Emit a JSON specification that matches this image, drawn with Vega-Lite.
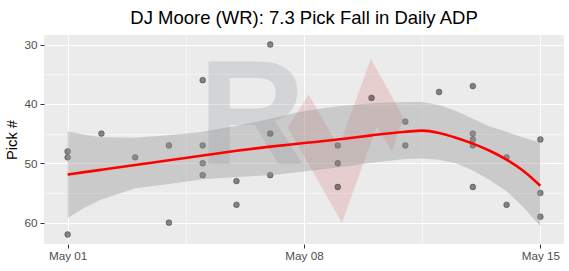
{
  "$schema": "https://vega.github.io/schema/vega-lite/v6.json",
  "width": 520,
  "height": 209,
  "autosize": "none",
  "padding": {"left": 44, "top": 35, "right": 5, "bottom": 27},
  "background": "white",
  "title": {
    "text": "DJ Moore (WR): 7.3 Pick Fall in Daily ADP",
    "font": "Liberation Sans",
    "fontSize": 18.5,
    "fontWeight": "normal",
    "color": "#000000",
    "anchor": "middle",
    "offset": 8
  },
  "config": {
    "view": {"fill": "#EBEBEB", "stroke": null},
    "axis": {
      "domain": false,
      "tickColor": "#333333",
      "tickSize": 4,
      "tickWidth": 1,
      "labelColor": "#4D4D4D",
      "labelFont": "Liberation Sans",
      "labelFontSize": 11.7,
      "labelFlush": false,
      "gridColor": "#FFFFFF",
      "titleFont": "Liberation Sans",
      "titleFontWeight": "normal",
      "titleColor": "#000000",
      "titleFontSize": 14.7
    }
  },
  "datasets": {
    "picks": [
      {"date": "2019-05-01", "pick": 48}, {"date": "2019-05-01", "pick": 49}, {"date": "2019-05-01", "pick": 62},
      {"date": "2019-05-02", "pick": 45},
      {"date": "2019-05-03", "pick": 49},
      {"date": "2019-05-04", "pick": 47}, {"date": "2019-05-04", "pick": 60},
      {"date": "2019-05-05", "pick": 36}, {"date": "2019-05-05", "pick": 47}, {"date": "2019-05-05", "pick": 50}, {"date": "2019-05-05", "pick": 52},
      {"date": "2019-05-06", "pick": 53}, {"date": "2019-05-06", "pick": 57},
      {"date": "2019-05-07", "pick": 30}, {"date": "2019-05-07", "pick": 45}, {"date": "2019-05-07", "pick": 52},
      {"date": "2019-05-09", "pick": 47}, {"date": "2019-05-09", "pick": 50}, {"date": "2019-05-09", "pick": 54},
      {"date": "2019-05-10", "pick": 39},
      {"date": "2019-05-11", "pick": 43}, {"date": "2019-05-11", "pick": 47},
      {"date": "2019-05-12", "pick": 38},
      {"date": "2019-05-13", "pick": 37}, {"date": "2019-05-13", "pick": 45}, {"date": "2019-05-13", "pick": 46}, {"date": "2019-05-13", "pick": 47}, {"date": "2019-05-13", "pick": 54},
      {"date": "2019-05-14", "pick": 49}, {"date": "2019-05-14", "pick": 57},
      {"date": "2019-05-15", "pick": 46}, {"date": "2019-05-15", "pick": 55}, {"date": "2019-05-15", "pick": 59}
    ],
    "smooth": [
      {"date": "2019-05-01T00:00:00Z", "fit": 51.9, "lo": 44.6, "hi": 59.2},
      {"date": "2019-05-01T12:00:00Z", "fit": 51.5, "lo": 45.2, "hi": 57.5},
      {"date": "2019-05-02T00:00:00Z", "fit": 51.1, "lo": 45.6, "hi": 56.1},
      {"date": "2019-05-03T00:00:00Z", "fit": 50.3, "lo": 45.7, "hi": 54.2},
      {"date": "2019-05-04T00:00:00Z", "fit": 49.5, "lo": 45.3, "hi": 53.5},
      {"date": "2019-05-05T00:00:00Z", "fit": 48.7, "lo": 44.7, "hi": 52.7},
      {"date": "2019-05-06T00:00:00Z", "fit": 47.9, "lo": 43.7, "hi": 52.3},
      {"date": "2019-05-07T00:00:00Z", "fit": 47.2, "lo": 42.5, "hi": 52.0},
      {"date": "2019-05-08T00:00:00Z", "fit": 46.6, "lo": 41.2, "hi": 51.4},
      {"date": "2019-05-09T00:00:00Z", "fit": 46.0, "lo": 40.4, "hi": 50.7},
      {"date": "2019-05-10T00:00:00Z", "fit": 45.3, "lo": 39.9, "hi": 49.9},
      {"date": "2019-05-11T00:00:00Z", "fit": 44.7, "lo": 39.7, "hi": 49.3},
      {"date": "2019-05-11T12:00:00Z", "fit": 44.5, "lo": 39.7, "hi": 49.2},
      {"date": "2019-05-12T00:00:00Z", "fit": 44.9, "lo": 40.2, "hi": 49.4},
      {"date": "2019-05-12T12:00:00Z", "fit": 45.7, "lo": 41.2, "hi": 50.0},
      {"date": "2019-05-13T00:00:00Z", "fit": 46.7, "lo": 42.5, "hi": 51.2},
      {"date": "2019-05-13T12:00:00Z", "fit": 47.9, "lo": 43.8, "hi": 52.8},
      {"date": "2019-05-14T00:00:00Z", "fit": 49.4, "lo": 44.7, "hi": 54.7},
      {"date": "2019-05-14T12:00:00Z", "fit": 51.3, "lo": 45.7, "hi": 57.4},
      {"date": "2019-05-15T00:00:00Z", "fit": 53.8, "lo": 46.5, "hi": 60.6}
    ],
    "logo": [
      {"i": 1, "date": "2019-05-07T12:20:00Z", "v": 44.0},
      {"i": 2, "date": "2019-05-08T03:14:00Z", "v": 38.4},
      {"i": 3, "date": "2019-05-09T00:45:00Z", "v": 47.3},
      {"i": 4, "date": "2019-05-09T23:31:00Z", "v": 32.4},
      {"i": 5, "date": "2019-05-10T22:39:00Z", "v": 42.3},
      {"i": 6, "date": "2019-05-10T14:25:00Z", "v": 48.0},
      {"i": 7, "date": "2019-05-10T03:46:00Z", "v": 43.8},
      {"i": 8, "date": "2019-05-09T02:56:00Z", "v": 60.0},
      {"i": 9, "date": "2019-05-07T22:33:00Z", "v": 48.2},
      {"i": 10, "date": "2019-05-07T12:20:00Z", "v": 44.0}
    ]
  },
  "resolve": {"axis": {"x": "independent", "y": "independent"}},
  "layer": [
    {
      "data": {"values": [{"mark": "R"}]},
      "mark": {"type": "text", "font": "Liberation Sans", "fontWeight": "bold", "fontSize": 148, "fill": "#9aa0a8", "opacity": 0.3, "align": "center", "baseline": "alphabetic"},
      "encoding": {
        "text": {"field": "mark"},
        "x": {"datum": {"year": 2019, "month": "may", "date": 6, "hours": 11, "utc": true}, "type": "temporal", "axis": null},
        "y": {"datum": 50.2, "type": "quantitative", "axis": null}
      }
    },
    {
      "data": {"name": "logo"},
      "mark": {"type": "line", "fill": "#d05a5a", "fillOpacity": 0.2, "stroke": null, "strokeWidth": 0},
      "encoding": {
        "x": {"field": "date", "type": "temporal", "axis": null},
        "y": {"field": "v", "type": "quantitative", "axis": null},
        "order": {"field": "i", "type": "quantitative"}
      }
    },
    {
      "data": {"name": "picks"},
      "mark": {"type": "point", "filled": true, "fill": "#000000", "fillOpacity": 0.45, "stroke": "#000000", "strokeOpacity": 0.3, "strokeWidth": 1, "size": 34},
      "encoding": {
        "x": {
          "field": "date", "type": "temporal",
          "scale": {"type": "utc", "domain": [{"year": 2019, "month": "apr", "date": 30, "hours": 7, "minutes": 12, "utc": true}, {"year": 2019, "month": "may", "date": 15, "hours": 16, "minutes": 48, "utc": true}]},
          "axis": {
            "orient": "bottom",
            "values": [{"year": 2019, "month": "may", "date": 1, "utc": true}, {"year": 2019, "month": "may", "date": 8, "utc": true}, {"year": 2019, "month": "may", "date": 15, "utc": true}],
            "format": "%b %d",
            "title": null,
            "grid": true,
            "gridWidth": 1.1,
            "labelPadding": 2
          }
        },
        "y": {
          "field": "pick", "type": "quantitative",
          "scale": {"domain": [28.4, 63.6], "reverse": true, "nice": false, "zero": false},
          "axis": {
            "orient": "left",
            "values": [30, 40, 50, 60],
            "title": "Pick #",
            "grid": true,
            "gridWidth": 1.1,
            "labelPadding": 3,
            "titlePadding": 4
          }
        }
      }
    },
    {
      "data": {"name": "smooth"},
      "mark": {"type": "area", "fill": "#999999", "opacity": 0.4},
      "encoding": {
        "x": {
          "field": "date", "type": "temporal",
          "axis": {"orient": "top", "values": [{"year": 2019, "month": "may", "date": 4, "hours": 12, "utc": true}, {"year": 2019, "month": "may", "date": 11, "hours": 12, "utc": true}], "labels": false, "ticks": false, "title": null, "grid": true, "gridWidth": 0.55}
        },
        "y": {
          "field": "lo", "type": "quantitative",
          "axis": {"orient": "right", "values": [35, 45, 55], "labels": false, "ticks": false, "title": null, "grid": true, "gridWidth": 0.55}
        },
        "y2": {"field": "hi"}
      }
    },
    {
      "data": {"name": "smooth"},
      "mark": {"type": "line", "color": "#FF0000", "strokeWidth": 2.6, "interpolate": "monotone"},
      "encoding": {
        "x": {"field": "date", "type": "temporal", "axis": null},
        "y": {"field": "fit", "type": "quantitative", "axis": null}
      }
    }
  ]
}
